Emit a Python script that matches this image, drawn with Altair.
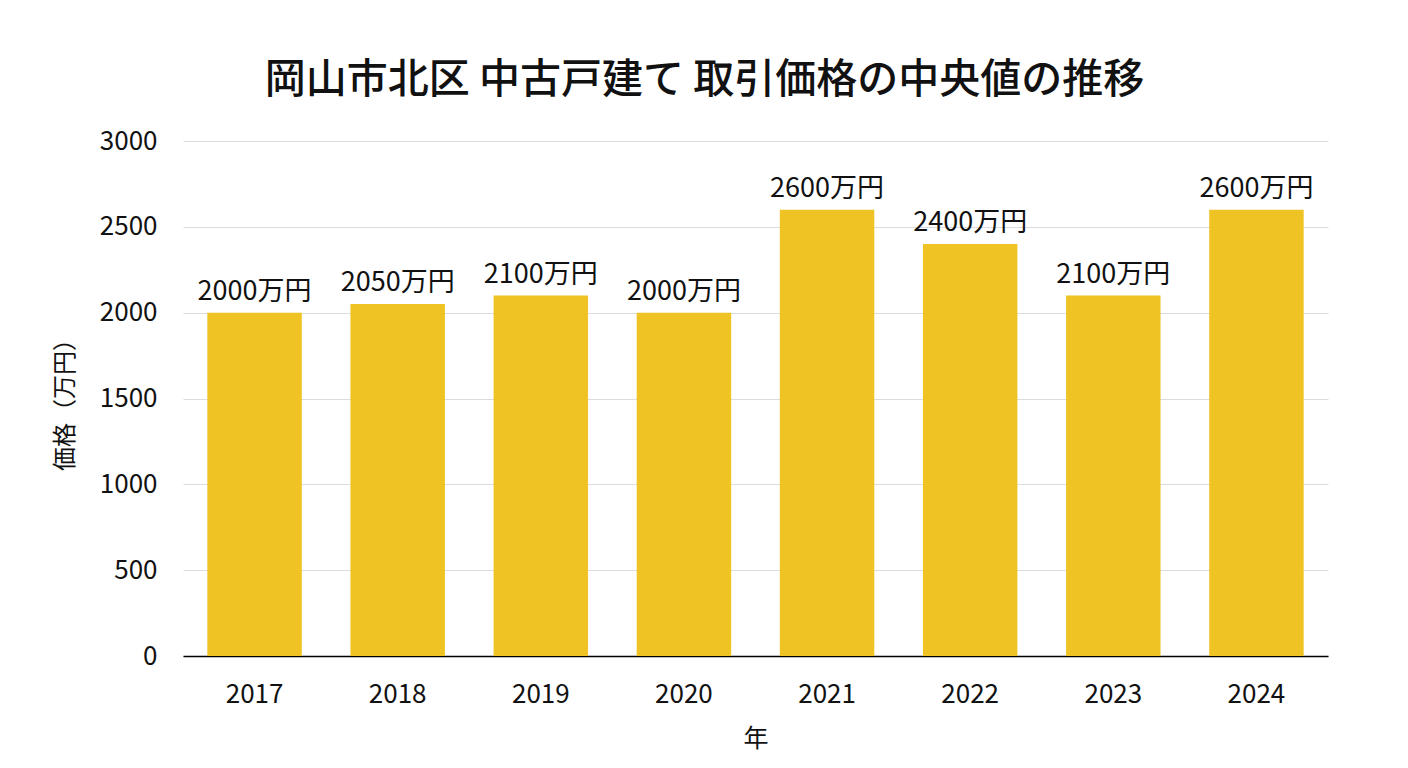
import altair as alt
import pandas as pd

years = ["2017", "2018", "2019", "2020", "2021", "2022", "2023", "2024"]
prices = [2000, 2050, 2100, 2000, 2600, 2400, 2100, 2600]
labels = ["2000万円", "2050万円", "2100万円", "2000万円", "2600万円", "2400万円", "2100万円", "2600万円"]

df = pd.DataFrame({"year": years, "price": prices, "label": labels})

FONT = "Noto Sans CJK JP"

base = alt.Chart(df).encode(
    x=alt.X("year:N", sort=years,
            scale=alt.Scale(paddingInner=0.34, paddingOuter=0.17),
            axis=alt.Axis(title="年", labelAngle=0, labelFontSize=26, titleFontSize=25,
                          labelPadding=25, titlePadding=19, ticks=False,
                          domainColor="#000000", domainWidth=1.5,
                          labelColor="#111111", titleColor="#111111", titleFontWeight="normal")),
)

bars = base.mark_bar(color="#EFC324").encode(
    y=alt.Y("price:Q", scale=alt.Scale(domain=[0, 3000]),
            axis=alt.Axis(title="価格（万円）", values=[0, 500, 1000, 1500, 2000, 2500, 3000],
                          format="d",
                          labelFontSize=26, titleFontSize=24, labelPadding=26, titlePadding=22,
                          ticks=False, domain=False, gridColor="#dcdcdc", gridWidth=1.2,
                          labelColor="#111111", titleColor="#111111", titleFontWeight="normal"))
)

text = base.mark_text(baseline="bottom", dy=-7, fontSize=27, color="#111111", font=FONT).encode(
    y="price:Q", text="label:N"
)

chart = (bars + text).properties(
    width=1145, height=515,
    autosize=alt.AutoSizeParams(type="none"),
    padding={"left": 175, "top": 133, "right": 60, "bottom": 100},
    title=alt.TitleParams("岡山市北区 中古戸建て 取引価格の中央値の推移", fontSize=41,
                          font=FONT, fontWeight=500, color="#111111", anchor="middle",
                          dx=-51, offset=26),
).configure(font=FONT).configure_view(stroke=None).configure_axis(labelFont=FONT, titleFont=FONT)

chart.save("out.html", embed_options={"renderer": "svg", "actions": False})
